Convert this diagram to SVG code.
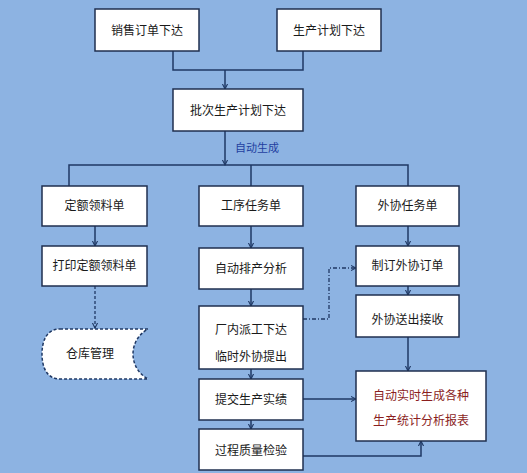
<svg xmlns="http://www.w3.org/2000/svg" width="527" height="473" viewBox="0 0 527 473">
<defs>
<marker id="ah" viewBox="0 0 8 8" refX="7" refY="4" markerWidth="6" markerHeight="6" orient="auto" markerUnits="userSpaceOnUse">
<path d="M0,0.5 L7,4 L0,7.5" fill="none" stroke="#1f3864" stroke-width="1.4"/>
</marker>
<style>
.box{fill:#ffffff;stroke:#1f2f4f;stroke-width:1.5}
.t{font-family:"Noto Sans CJK SC","Noto Sans",sans-serif;font-size:12px;fill:#1a1a1a;text-anchor:middle}
.red{fill:#8b1e1e}
.c{fill:none;stroke:#1f3864;stroke-width:1.5}
.d{fill:none;stroke:#1f3864;stroke-width:1.3;stroke-dasharray:4,2,1,2}
.dd{fill:none;stroke:#1f3864;stroke-width:1.3;stroke-dasharray:3,2}
</style>
</defs>
<rect x="0" y="0" width="527" height="473" fill="#8db3e2"/>
<g id="connectors">
<polyline class="c" points="173,51 173,70 303,70 303,51"/>
<line class="c" x1="225" y1="70" x2="225" y2="89" marker-end="url(#ah)"/>
<line class="c" x1="225" y1="131" x2="225" y2="165" marker-end="url(#ah)"/>
<polyline class="c" points="69,186 69,165 408,165 408,186"/>
<line class="c" x1="251" y1="165" x2="251" y2="186"/>
<line class="c" x1="95" y1="226" x2="95" y2="246" marker-end="url(#ah)"/>
<line class="c" x1="251" y1="226" x2="251" y2="248" marker-end="url(#ah)"/>
<line class="c" x1="408" y1="226" x2="408" y2="246" marker-end="url(#ah)"/>
<line class="c" x1="408" y1="286" x2="408" y2="295" marker-end="url(#ah)"/>
<line class="c" x1="251" y1="289" x2="251" y2="306" marker-end="url(#ah)"/>
<polyline class="d" points="303,319 329,319 329,268 356,268" marker-end="url(#ah)"/>
<line class="dd" x1="95" y1="286" x2="95" y2="328" marker-end="url(#ah)"/>
<line class="c" x1="251" y1="369" x2="251" y2="379" marker-end="url(#ah)"/>
<line class="c" x1="251" y1="420" x2="251" y2="429" marker-end="url(#ah)"/>
<line class="c" x1="408" y1="337" x2="408" y2="371" marker-end="url(#ah)"/>
<line class="c" x1="303" y1="399" x2="356" y2="399" marker-end="url(#ah)"/>
<polyline class="c" points="303,456 421,456 421,441" marker-end="url(#ah)"/>
<text x="235" y="152" style="font-family:'Noto Sans CJK SC',sans-serif;font-size:11px;fill:#1f3fa0">自动生成</text>
</g>
<g id="n1"><rect class="box" x="95" y="9" width="104" height="42"/><text class="t" x="147" y="35">销售订单下达</text></g>
<g id="n2"><rect class="box" x="277" y="9" width="104" height="42"/><text class="t" x="329" y="35">生产计划下达</text></g>
<g id="n3"><rect class="box" x="173" y="89" width="130" height="42"/><text class="t" x="238" y="115">批次生产计划下达</text></g>
<g id="n4"><rect class="box" x="42" y="186" width="105" height="40"/><text class="t" x="94.5" y="210">定额领料单</text></g>
<g id="n5"><rect class="box" x="199" y="186" width="104" height="40"/><text class="t" x="251" y="210">工序任务单</text></g>
<g id="n6"><rect class="box" x="356" y="186" width="103" height="40"/><text class="t" x="407.5" y="210">外协任务单</text></g>
<g id="n7"><rect class="box" x="42" y="246" width="105" height="40"/><text class="t" x="94.5" y="270">打印定额领料单</text></g>
<g id="n8"><rect class="box" x="199" y="248" width="104" height="41"/><text class="t" x="251" y="273">自动排产分析</text></g>
<g id="n9"><rect class="box" x="356" y="246" width="103" height="40"/><text class="t" x="407.5" y="270">制订外协订单</text></g>
<g id="n10"><rect class="box" x="356" y="295" width="103" height="42"/><text class="t" x="407.5" y="324">外协送出接收</text></g>
<g id="n11"><rect class="box" x="199" y="306" width="104" height="63"/><text class="t" x="251" y="334">厂内派工下达</text><text class="t" x="251" y="361">临时外协提出</text></g>
<g id="n12"><path d="M60,329 H148 C128,340 128,368 148,379 H60 C46,379 42,366 42,354 C42,342 46,329 60,329 Z" fill="#ffffff" stroke="#1f3864" stroke-width="1.5" stroke-dasharray="3,2"/><text class="t" x="90" y="358">仓库管理</text></g>
<g id="n13"><rect class="box" x="199" y="379" width="104" height="41"/><text class="t" x="251" y="404">提交生产实绩</text></g>
<g id="n14"><rect class="box" x="199" y="429" width="104" height="41"/><text class="t" x="251" y="455">过程质量检验</text></g>
<g id="n15"><rect class="box" x="356" y="371" width="130" height="70"/><text class="t red" x="421" y="400">自动实时生成各种</text><text class="t red" x="421" y="425">生产统计分析报表</text></g>
</svg>
